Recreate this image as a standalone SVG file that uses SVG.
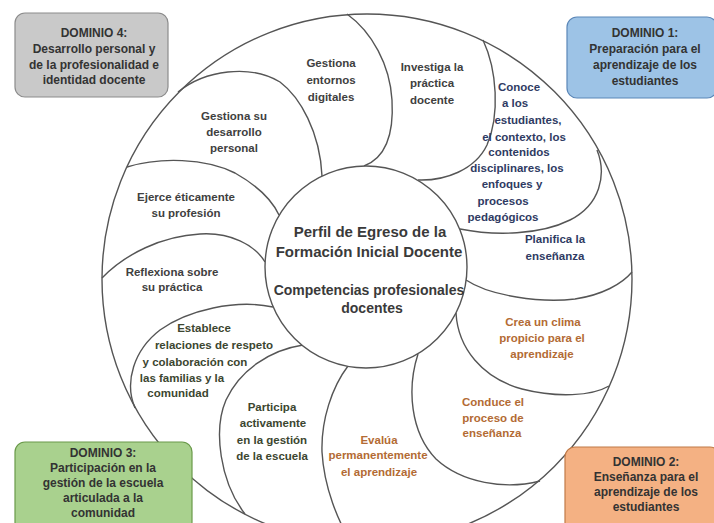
<svg xmlns="http://www.w3.org/2000/svg" width="714" height="523" viewBox="0 0 714 523">
<style>
.bg{fill:#ffffff}
.ln{fill:none;stroke:#555555;stroke-width:1.4}
.circ{fill:#ffffff;stroke:#555555;stroke-width:1.4}
text{font-family:"Liberation Sans",Arial,sans-serif;font-weight:bold;text-anchor:middle}
.t{font-size:11.5px}
.d4{fill:#404040}
.d1{fill:#2f3b63}
.d2{fill:#b36b34}
.d3{fill:#3c4630}
.ttl{font-size:15px;fill:#3a3a3a}
.sub{font-size:14px;fill:#3a3a3a}
.dom{font-size:12px;fill:#333333}
.box4{fill:#c9c9c9;stroke:#8c8c8c;stroke-width:1.2}
.box1{fill:#9dc3e6;stroke:#5b87b8;stroke-width:1.2}
.box3{fill:#a9d18e;stroke:#6a9a4a;stroke-width:1.2}
.box2{fill:#f4b183;stroke:#c07a48;stroke-width:1.2}
</style>
<rect class="bg" x="0" y="0" width="714" height="523"/>
<g id="outer-circle">
<circle class="circ" cx="367" cy="279" r="265"/>
</g>
<g id="connectors">
<path class="ln" d="M347,14 C372,32 390,65 392,100 C394,135 385,158 364,166"/>
<path class="ln" d="M483,40 C497,70 500,115 487,145 C475,170 445,181 418,180"/>
<path class="ln" d="M597,150 C607,175 600,205 570,220 C540,235 495,236 460,229"/>
<path class="ln" d="M466,280 C490,296 540,303 575,299 C602,295 622,284 632,272"/>
<path class="ln" d="M456,313 C458,348 482,378 522,389 C557,398 592,396 609,386"/>
<path class="ln" d="M418,354 C407,388 410,432 436,459 C462,483 505,490 540,481"/>
<path class="ln" d="M348,366 C332,387 321,420 322,452 C324,487 338,522 352,543"/>
<path class="ln" d="M303,345 C270,350 240,370 226,400 C213,430 220,482 245,514"/>
<path class="ln" d="M273,307 C236,299 188,310 160,330 C134,350 124,382 135,408"/>
<path class="ln" d="M102,278 C125,254 162,236 200,234 C230,232 255,245 265,262"/>
<path class="ln" d="M127,167 C160,157 205,158 235,173 C258,186 272,200 279,215"/>
<path class="ln" d="M178,92 C205,70 250,64 280,82 C300,97 320,132 322,176"/>
</g>
<g id="center">
<circle class="circ" cx="366" cy="267" r="101"/>
<text class="ttl" x="370" y="237">Perfil de Egreso de la</text>
<text class="ttl" x="369" y="257">Formación Inicial Docente</text>
<text class="sub" x="369" y="295">Competencias profesionales</text>
<text class="sub" x="372" y="313">docentes</text>
</g>
<g id="p-entornos"><text class="t d4"><tspan x="331" y="67">Gestiona</tspan><tspan x="331" y="84">entornos</tspan><tspan x="331" y="101">digitales</tspan></text></g>
<g id="p-investiga"><text class="t d4"><tspan x="432" y="71">Investiga la</tspan><tspan x="432" y="87">práctica</tspan><tspan x="432" y="104">docente</tspan></text></g>
<g id="p-conoce"><text class="t d1"><tspan x="519" y="91">Conoce</tspan><tspan x="515" y="107">a los</tspan><tspan x="528" y="124">estudiantes,</tspan><tspan x="524" y="141">el contexto, los</tspan><tspan x="519" y="156">contenidos</tspan><tspan x="517" y="172">disciplinares, los</tspan><tspan x="512" y="188">enfoques y</tspan><tspan x="503" y="205">procesos</tspan><tspan x="503" y="221">pedagógicos</tspan></text></g>
<g id="p-planifica"><text class="t d1"><tspan x="555" y="243">Planifica la</tspan><tspan x="555" y="260">enseñanza</tspan></text></g>
<g id="p-crea"><text class="t d2"><tspan x="543" y="326">Crea un clima</tspan><tspan x="542" y="342">propicio para el</tspan><tspan x="542" y="358">aprendizaje</tspan></text></g>
<g id="p-conduce"><text class="t d2"><tspan x="493" y="406">Conduce el</tspan><tspan x="493" y="422">proceso de</tspan><tspan x="492" y="437">enseñanza</tspan></text></g>
<g id="p-evalua"><text class="t d2"><tspan x="379" y="444">Evalúa</tspan><tspan x="378" y="459">permanentemente</tspan><tspan x="379" y="476">el aprendizaje</tspan></text></g>
<g id="p-participa"><text class="t d3"><tspan x="272" y="411">Participa</tspan><tspan x="273" y="427">activamente</tspan><tspan x="272" y="444">en la gestión</tspan><tspan x="272" y="460">de la escuela</tspan></text></g>
<g id="p-establece"><text class="t d3"><tspan x="204" y="332">Establece</tspan><tspan x="214" y="349">relaciones de respeto</tspan><tspan x="195" y="366">y colaboración con</tspan><tspan x="182" y="382">las familias y la</tspan><tspan x="178" y="397">comunidad</tspan></text></g>
<g id="p-reflexiona"><text class="t d4"><tspan x="172" y="276">Reflexiona sobre</tspan><tspan x="172" y="291">su práctica</tspan></text></g>
<g id="p-ejerce"><text class="t d4"><tspan x="186" y="201">Ejerce éticamente</tspan><tspan x="186" y="217">su profesión</tspan></text></g>
<g id="p-desarrollo"><text class="t d4"><tspan x="234" y="120">Gestiona su</tspan><tspan x="234" y="136">desarrollo</tspan><tspan x="234" y="152">personal</tspan></text></g>
<g id="dominio4">
<rect class="box4" x="15" y="13" width="153" height="84" rx="10"/>
<text class="dom"><tspan x="94" y="37">DOMINIO 4:</tspan><tspan x="94" y="53">Desarrollo personal y</tspan><tspan x="94" y="69">de la profesionalidad e</tspan><tspan x="94" y="84">identidad docente</tspan></text>
</g>
<g id="dominio1">
<rect class="box1" x="567" y="17" width="150" height="81" rx="10"/>
<text class="dom"><tspan x="645" y="37">DOMINIO 1:</tspan><tspan x="645" y="53">Preparación para el</tspan><tspan x="645" y="69">aprendizaje de los</tspan><tspan x="645" y="85">estudiantes</tspan></text>
</g>
<g id="dominio3">
<rect class="box3" x="15" y="442" width="177" height="90" rx="10"/>
<text class="dom"><tspan x="103" y="457">DOMINIO 3:</tspan><tspan x="103" y="472">Participación en la</tspan><tspan x="103" y="487">gestión de la escuela</tspan><tspan x="103" y="502">articulada a la</tspan><tspan x="103" y="517">comunidad</tspan></text>
</g>
<g id="dominio2">
<rect class="box2" x="565" y="447" width="155" height="85" rx="10"/>
<text class="dom"><tspan x="646" y="466">DOMINIO 2:</tspan><tspan x="646" y="481">Enseñanza para el</tspan><tspan x="646" y="496">aprendizaje de los</tspan><tspan x="646" y="511">estudiantes</tspan></text>
</g>
</svg>
